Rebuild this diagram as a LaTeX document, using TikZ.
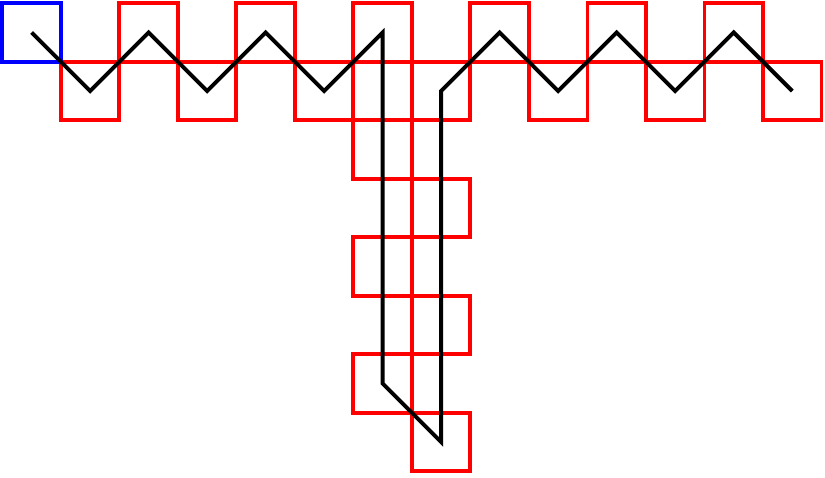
\documentclass[tikz,border=0pt]{standalone}
\usepackage{xcolor}
\usepackage{tikz}
\usetikzlibrary{positioning}
\definecolor{cRed}{HTML}{FF0000}
\definecolor{cBlue}{HTML}{0000FF}
\definecolor{cInk}{HTML}{000000}
\tikzset{
  cell/.style={draw=#1,rectangle,minimum size=1cm,inner sep=0pt,outer sep=0pt,line width=1.9pt},
  cell/.default=cRed,
  walk/.style={draw=cInk,line width=1.9pt},
}

\begin{document}
\begin{tikzpicture}[x=1cm,y=1cm]
    \useasboundingbox (-0.04,0.055) rectangle (14.06,-8.10);
    % zigzag row, upper and lower cells
    \foreach \c in {2,4,...,12}{\node[cell] (s-\c-0) at (\c+0.5,-0.5) {};}
    \foreach \c in {1,3,5,6,7,9,11,13}{\node[cell] (s-\c-1) at (\c+0.5,-1.5) {};}
    % the hanging column
    \foreach \r in {2,4,6}{\node[cell] (s-6-\r) at (6.5,-\r-0.5) {};}
    \foreach \r in {3,5,7}{\node[cell] (s-7-\r) at (7.5,-\r-0.5) {};}
    \node[cell=cBlue] (s-0-0) at (0.5,-0.5) {};
    \draw[walk] (s-0-0.center) -- (s-1-1.center) -- (s-2-0.center) -- (s-3-1.center) -- (s-4-0.center)
      -- (s-5-1.center) -- (s-6-0.center) -- (s-6-6.center) -- (s-7-7.center) -- (s-7-1.center)
      -- (s-8-0.center) -- (s-9-1.center) -- (s-10-0.center) -- (s-11-1.center) -- (s-12-0.center) -- (s-13-1.center);
  \end{tikzpicture}
\end{document}
